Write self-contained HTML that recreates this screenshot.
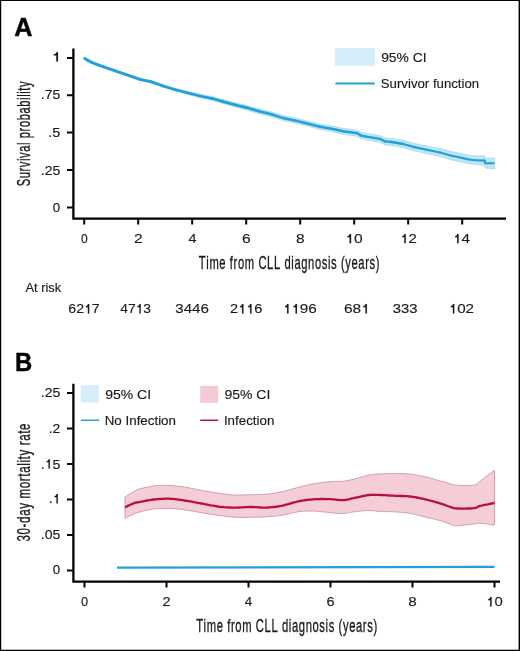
<!DOCTYPE html>
<html><head><meta charset="utf-8">
<style>
html,body{margin:0;padding:0;background:#fff;}
body{width:520px;height:651px;overflow:hidden;}
svg{display:block;will-change:transform;}
text{font-family:"Liberation Sans",sans-serif;}
</style></head><body>
<svg width="520" height="651" viewBox="0 0 520 651">
<rect x="0" y="0" width="520" height="651" fill="#fff"/>
<path fill="#000" d="M0 0 H520 V651 H0 Z M1.2 1.0 V649.7 H518.6 V1.0 Z" fill-rule="evenodd"/>
<path fill="#c0e7f7" stroke="#99d3ec" stroke-width="0.6" d="M84.8 58.0 L88.0 60.0 L91.5 61.8 L98.0 64.2 L103.1 66.0 L108.0 67.7 L114.6 69.8 L126.2 73.7 L140.0 78.4 L151.5 80.8 L163.1 84.7 L174.6 88.1 L186.2 90.9 L200.0 94.2 L211.5 96.4 L223.1 99.6 L234.6 102.5 L246.2 105.3 L260.0 109.0 L271.5 111.8 L283.1 115.5 L294.6 117.8 L306.2 120.6 L320.0 124.0 L331.5 126.0 L343.1 128.3 L357.5 130.2 L360.5 132.2 L366.2 133.4 L380.0 135.5 L385.0 138.0 L391.5 138.5 L403.1 140.3 L414.6 143.5 L426.2 145.8 L440.0 148.4 L451.5 151.6 L463.1 153.8 L468.8 155.2 L474.6 155.8 L484.6 155.8 L485.4 158.4 L494.8 157.7 L494.8 168.9 L485.4 168.2 L484.6 165.4 L474.6 164.6 L468.8 163.8 L463.1 162.4 L451.5 160.0 L440.0 156.6 L426.2 153.6 L414.6 151.0 L403.1 147.6 L391.5 145.5 L385.0 144.9 L380.0 142.3 L366.2 139.8 L360.5 138.6 L357.5 136.4 L343.1 134.3 L331.5 131.6 L320.0 129.4 L306.2 125.9 L294.6 123.0 L283.1 120.6 L271.5 116.9 L260.0 114.0 L246.2 109.9 L234.6 106.9 L223.1 103.6 L211.5 100.1 L200.0 97.7 L186.2 94.0 L174.6 90.9 L163.1 87.2 L151.5 83.1 L140.0 80.4 L126.2 75.4 L114.6 71.3 L108.0 69.1 L103.1 67.2 L98.0 65.3 L91.5 62.8 L88.0 60.8 L84.8 58.8 Z"/>
<g fill="none" stroke="#23a0da" stroke-linecap="round"><path d="M84.8 58.4 L88.0 60.4" stroke-width="3.00"/><path d="M88.0 60.4 L91.5 62.3" stroke-width="2.99"/><path d="M91.5 62.3 L98.0 64.8" stroke-width="2.98"/><path d="M98.0 64.8 L103.1 66.6" stroke-width="2.97"/><path d="M103.1 66.6 L108.0 68.4" stroke-width="2.96"/><path d="M108.0 68.4 L114.6 70.6" stroke-width="2.95"/><path d="M114.6 70.6 L126.2 74.6" stroke-width="2.94"/><path d="M126.2 74.6 L140.0 79.4" stroke-width="2.92"/><path d="M140.0 79.4 L151.5 81.9" stroke-width="2.89"/><path d="M151.5 81.9 L163.1 86.0" stroke-width="2.87"/><path d="M163.1 86.0 L174.6 89.5" stroke-width="2.85"/><path d="M174.6 89.5 L186.2 92.5" stroke-width="2.83"/><path d="M186.2 92.5 L200.0 96.0" stroke-width="2.81"/><path d="M200.0 96.0 L211.5 98.3" stroke-width="2.78"/><path d="M211.5 98.3 L223.1 101.6" stroke-width="2.75"/><path d="M223.1 101.6 L234.6 104.7" stroke-width="2.71"/><path d="M234.6 104.7 L246.2 107.6" stroke-width="2.68"/><path d="M246.2 107.6 L260.0 111.5" stroke-width="2.64"/><path d="M260.0 111.5 L271.5 114.3" stroke-width="2.60"/><path d="M271.5 114.3 L283.1 118.1" stroke-width="2.57"/><path d="M283.1 118.1 L294.6 120.4" stroke-width="2.53"/><path d="M294.6 120.4 L306.2 123.3" stroke-width="2.50"/><path d="M306.2 123.3 L320.0 126.7" stroke-width="2.47"/><path d="M320.0 126.7 L331.5 128.8" stroke-width="2.45"/><path d="M331.5 128.8 L343.1 131.3" stroke-width="2.42"/><path d="M343.1 131.3 L357.5 133.3" stroke-width="2.40"/><path d="M357.5 133.3 L360.5 135.4" stroke-width="2.38"/><path d="M360.5 135.4 L366.2 136.6" stroke-width="2.37"/><path d="M366.2 136.6 L380.0 138.9" stroke-width="2.35"/><path d="M380.0 138.9 L385.0 141.4" stroke-width="2.33"/><path d="M385.0 141.4 L391.5 142.0" stroke-width="2.32"/><path d="M391.5 142.0 L403.1 144.0" stroke-width="2.30"/><path d="M403.1 144.0 L414.6 147.2" stroke-width="2.27"/><path d="M414.6 147.2 L426.2 149.7" stroke-width="2.25"/><path d="M426.2 149.7 L440.0 152.5" stroke-width="2.22"/><path d="M440.0 152.5 L451.5 155.8" stroke-width="2.20"/><path d="M451.5 155.8 L463.1 158.1" stroke-width="2.18"/><path d="M463.1 158.1 L468.8 159.5" stroke-width="2.16"/><path d="M468.8 159.5 L474.6 160.2" stroke-width="2.15"/><path d="M474.6 160.2 L484.6 160.6" stroke-width="2.13"/><path d="M484.6 160.6 L485.4 163.3" stroke-width="2.12"/><path d="M485.4 163.3 L493.6 163.3" stroke-width="2.11"/></g>
<path d="M73.4 48.4 V218.6 H506" fill="none" stroke="#000" stroke-width="2.3"/>
<path stroke="#000" stroke-width="2" d="M67 58 H73 M67 95.2 H73 M67 132.6 H73 M67 170 H73 M67 207.5 H73"/>
<path stroke="#000" stroke-width="2" d="M84.2 218 V224.6 M138.2 218 V224.6 M192.2 218 V224.6 M246.2 218 V224.6 M300.2 218 V224.6 M354.2 218 V224.6 M408.2 218 V224.6 M462.2 218 V224.6"/>
<rect x="335" y="48" width="40" height="17.7" fill="#d6eef9"/>
<path d="M335.4 83.4 H374.6" stroke="#23a0da" stroke-width="2"/>
<path fill="#f4cdd7" stroke="#c98b9b" stroke-width="0.8" d="M125.0 497.0 L125.7 496.5 L126.7 495.9 L127.8 495.2 L129.1 494.4 L130.4 493.5 L131.8 492.7 L133.0 492.0 L134.0 491.4 L134.8 490.9 L135.5 490.5 L136.1 490.2 L136.6 489.9 L137.2 489.7 L137.9 489.4 L138.8 489.1 L140.0 488.8 L141.5 488.4 L143.2 488.0 L145.1 487.6 L147.1 487.2 L149.2 486.7 L151.3 486.4 L153.4 486.0 L155.4 485.8 L157.3 485.6 L159.2 485.5 L161.2 485.4 L163.1 485.4 L165.0 485.3 L167.0 485.4 L168.9 485.4 L170.8 485.5 L172.7 485.6 L174.7 485.8 L176.6 486.0 L178.5 486.2 L180.4 486.4 L182.4 486.7 L184.3 487.0 L186.2 487.3 L188.1 487.6 L190.0 488.0 L191.8 488.4 L193.7 488.8 L195.5 489.2 L197.5 489.6 L199.4 490.0 L201.5 490.4 L203.7 490.8 L206.0 491.2 L208.3 491.6 L210.7 492.0 L213.1 492.4 L215.5 492.8 L217.8 493.1 L220.0 493.4 L222.1 493.7 L224.1 493.9 L226.0 494.2 L227.9 494.4 L229.8 494.6 L231.6 494.8 L233.5 494.9 L235.4 495.0 L237.3 495.1 L239.2 495.1 L241.2 495.0 L243.1 495.0 L245.0 494.9 L247.0 494.8 L248.9 494.8 L250.8 494.7 L252.7 494.7 L254.7 494.6 L256.6 494.6 L258.5 494.6 L260.4 494.5 L262.4 494.5 L264.3 494.3 L266.2 494.2 L268.1 494.0 L270.0 493.8 L271.8 493.6 L273.7 493.3 L275.5 493.0 L277.5 492.7 L279.4 492.3 L281.5 491.9 L283.7 491.4 L286.0 490.8 L288.3 490.2 L290.7 489.5 L293.1 488.8 L295.5 488.1 L297.8 487.5 L300.0 486.9 L302.1 486.4 L304.1 485.9 L306.0 485.4 L307.9 485.0 L309.8 484.6 L311.6 484.2 L313.5 483.8 L315.4 483.5 L317.3 483.2 L319.3 482.9 L321.3 482.6 L323.3 482.4 L325.3 482.1 L327.2 481.9 L329.0 481.8 L330.8 481.6 L332.5 481.5 L334.1 481.4 L335.7 481.4 L337.2 481.4 L338.7 481.4 L340.2 481.4 L341.7 481.3 L343.1 481.2 L344.5 481.0 L345.8 480.9 L347.0 480.7 L348.3 480.4 L349.5 480.2 L350.8 479.9 L352.2 479.6 L353.8 479.2 L355.5 478.8 L357.4 478.2 L359.4 477.6 L361.5 477.0 L363.6 476.4 L365.6 475.9 L367.5 475.4 L369.2 475.0 L370.7 474.7 L372.1 474.5 L373.4 474.3 L374.6 474.2 L375.8 474.1 L377.1 474.1 L378.5 474.0 L380.0 473.9 L381.7 473.8 L383.5 473.7 L385.4 473.7 L387.4 473.6 L389.4 473.5 L391.4 473.5 L393.4 473.5 L395.4 473.5 L397.3 473.5 L399.2 473.5 L401.2 473.6 L403.1 473.6 L405.0 473.7 L406.9 473.9 L408.9 474.0 L410.8 474.2 L412.7 474.4 L414.7 474.7 L416.6 475.1 L418.6 475.4 L420.5 475.8 L422.5 476.2 L424.4 476.6 L426.2 477.0 L428.0 477.4 L429.8 477.9 L431.6 478.4 L433.3 478.9 L435.1 479.4 L436.7 479.9 L438.4 480.3 L440.0 480.8 L441.6 481.3 L443.2 481.7 L444.7 482.2 L446.2 482.7 L447.7 483.1 L449.1 483.5 L450.4 483.9 L451.5 484.2 L452.4 484.4 L453.1 484.6 L453.6 484.8 L454.1 484.9 L454.6 485.0 L455.3 485.1 L456.1 485.1 L457.3 485.2 L458.9 485.3 L460.8 485.4 L463.0 485.5 L465.3 485.5 L467.6 485.6 L469.9 485.5 L471.8 485.4 L473.5 485.2 L474.8 484.9 L475.7 484.6 L476.5 484.1 L477.1 483.7 L477.7 483.1 L478.4 482.4 L479.3 481.7 L480.4 480.8 L481.9 479.7 L483.7 478.3 L485.8 476.8 L487.9 475.2 L489.9 473.7 L491.8 472.3 L493.4 471.1 L494.5 470.2 L494.5 525.2 L493.4 525.0 L491.8 524.8 L489.9 524.5 L487.9 524.2 L485.8 523.8 L483.7 523.5 L481.9 523.3 L480.4 523.2 L479.3 523.2 L478.4 523.2 L477.7 523.3 L477.1 523.4 L476.5 523.5 L475.7 523.7 L474.8 523.8 L473.5 524.0 L471.8 524.2 L469.9 524.4 L467.6 524.7 L465.3 525.0 L463.0 525.3 L460.8 525.5 L458.9 525.7 L457.3 525.8 L456.1 525.8 L455.3 525.8 L454.6 525.7 L454.1 525.6 L453.6 525.4 L453.1 525.2 L452.4 524.9 L451.5 524.6 L450.4 524.2 L449.1 523.8 L447.7 523.3 L446.2 522.7 L444.7 522.2 L443.2 521.6 L441.6 521.1 L440.0 520.6 L438.4 520.2 L436.7 519.7 L435.1 519.3 L433.3 518.9 L431.6 518.5 L429.8 518.1 L428.0 517.7 L426.2 517.3 L424.4 516.8 L422.5 516.3 L420.5 515.8 L418.6 515.3 L416.6 514.8 L414.7 514.3 L412.7 513.9 L410.8 513.5 L408.9 513.2 L406.9 512.9 L405.0 512.7 L403.1 512.5 L401.2 512.3 L399.2 512.2 L397.3 512.0 L395.4 511.9 L393.4 511.8 L391.4 511.7 L389.4 511.7 L387.4 511.7 L385.4 511.6 L383.5 511.6 L381.7 511.6 L380.0 511.5 L378.5 511.4 L377.1 511.2 L375.8 511.0 L374.6 510.8 L373.4 510.7 L372.1 510.5 L370.7 510.4 L369.2 510.4 L367.5 510.5 L365.6 510.6 L363.6 510.8 L361.5 511.0 L359.4 511.2 L357.4 511.5 L355.5 511.7 L353.8 511.9 L352.2 512.1 L350.8 512.3 L349.5 512.6 L348.3 512.8 L347.0 513.1 L345.8 513.3 L344.5 513.4 L343.1 513.5 L341.7 513.5 L340.2 513.5 L338.7 513.4 L337.2 513.3 L335.7 513.2 L334.1 513.0 L332.5 512.8 L330.8 512.7 L329.0 512.5 L327.2 512.3 L325.3 512.1 L323.3 511.9 L321.3 511.7 L319.3 511.5 L317.3 511.3 L315.4 511.2 L313.5 511.1 L311.6 511.1 L309.8 511.0 L307.9 511.0 L306.0 511.1 L304.1 511.1 L302.1 511.3 L300.0 511.5 L297.8 511.8 L295.5 512.3 L293.1 512.8 L290.7 513.3 L288.3 513.9 L286.0 514.4 L283.7 514.9 L281.5 515.3 L279.4 515.6 L277.5 515.9 L275.5 516.1 L273.7 516.3 L271.8 516.4 L270.0 516.5 L268.1 516.7 L266.2 516.8 L264.3 516.9 L262.4 517.0 L260.4 517.1 L258.5 517.1 L256.6 517.2 L254.7 517.2 L252.7 517.3 L250.8 517.3 L248.9 517.3 L247.0 517.4 L245.0 517.4 L243.1 517.4 L241.2 517.5 L239.2 517.4 L237.3 517.4 L235.4 517.3 L233.5 517.2 L231.6 517.0 L229.8 516.8 L227.9 516.6 L226.0 516.3 L224.1 516.1 L222.1 515.8 L220.0 515.5 L217.8 515.2 L215.5 514.9 L213.1 514.5 L210.7 514.2 L208.3 513.8 L206.0 513.4 L203.7 513.0 L201.5 512.7 L199.4 512.4 L197.5 512.0 L195.5 511.7 L193.7 511.3 L191.8 511.0 L190.0 510.7 L188.1 510.4 L186.2 510.1 L184.3 509.8 L182.4 509.6 L180.4 509.3 L178.5 509.1 L176.6 508.9 L174.7 508.7 L172.7 508.6 L170.8 508.5 L168.9 508.4 L167.0 508.4 L165.0 508.4 L163.1 508.4 L161.2 508.4 L159.2 508.5 L157.3 508.6 L155.4 508.8 L153.4 509.1 L151.3 509.4 L149.2 509.8 L147.1 510.2 L145.1 510.7 L143.2 511.1 L141.5 511.5 L140.0 511.9 L138.8 512.2 L137.9 512.4 L137.2 512.6 L136.6 512.8 L136.1 513.0 L135.5 513.3 L134.8 513.5 L134.0 513.9 L133.0 514.4 L131.8 514.9 L130.4 515.6 L129.1 516.2 L127.8 516.9 L126.7 517.5 L125.7 517.9 L125.0 518.3 Z"/>
<path fill="none" stroke="#b8103c" stroke-width="2.3" d="M125.0 507.3 L125.7 507.0 L126.7 506.5 L127.8 505.9 L129.1 505.3 L130.4 504.7 L131.8 504.1 L133.0 503.6 L134.0 503.2 L134.8 502.9 L135.5 502.7 L136.1 502.6 L136.6 502.5 L137.2 502.4 L137.9 502.3 L138.8 502.1 L140.0 501.9 L141.5 501.6 L143.2 501.3 L145.1 500.9 L147.1 500.5 L149.2 500.2 L151.3 499.8 L153.4 499.5 L155.4 499.3 L157.3 499.1 L159.2 499.0 L161.2 498.8 L163.1 498.8 L165.0 498.7 L167.0 498.7 L168.9 498.7 L170.8 498.8 L172.7 498.9 L174.7 499.1 L176.6 499.3 L178.5 499.6 L180.4 499.9 L182.4 500.2 L184.3 500.5 L186.2 500.8 L188.1 501.1 L190.0 501.4 L191.8 501.7 L193.7 502.1 L195.5 502.4 L197.5 502.8 L199.4 503.1 L201.5 503.5 L203.7 503.9 L206.0 504.3 L208.3 504.8 L210.7 505.3 L213.1 505.7 L215.5 506.1 L217.8 506.5 L220.0 506.8 L222.1 507.0 L224.1 507.2 L226.0 507.3 L227.9 507.4 L229.8 507.5 L231.6 507.6 L233.5 507.6 L235.4 507.6 L237.3 507.6 L239.2 507.5 L241.2 507.4 L243.1 507.3 L245.0 507.2 L247.0 507.1 L248.9 507.0 L250.8 507.0 L252.7 507.0 L254.7 507.1 L256.6 507.2 L258.5 507.4 L260.4 507.5 L262.4 507.6 L264.3 507.6 L266.2 507.6 L268.1 507.5 L270.0 507.4 L271.8 507.2 L273.7 507.0 L275.5 506.8 L277.5 506.5 L279.4 506.2 L281.5 505.8 L283.7 505.3 L286.0 504.7 L288.3 504.1 L290.7 503.4 L293.1 502.7 L295.5 502.1 L297.8 501.5 L300.0 501.0 L302.1 500.6 L304.1 500.3 L306.0 500.0 L307.9 499.8 L309.8 499.6 L311.6 499.5 L313.5 499.3 L315.4 499.2 L317.3 499.1 L319.3 499.1 L321.3 499.0 L323.3 499.0 L325.3 499.1 L327.2 499.1 L329.0 499.1 L330.8 499.2 L332.5 499.3 L334.1 499.4 L335.7 499.6 L337.2 499.8 L338.7 499.9 L340.2 500.1 L341.7 500.1 L343.1 500.1 L344.5 500.0 L345.8 499.8 L347.0 499.6 L348.3 499.4 L349.5 499.1 L350.8 498.7 L352.2 498.4 L353.8 498.1 L355.5 497.7 L357.4 497.3 L359.4 496.9 L361.5 496.4 L363.6 496.0 L365.6 495.6 L367.5 495.2 L369.2 495.0 L370.7 494.8 L372.1 494.8 L373.4 494.7 L374.6 494.8 L375.8 494.8 L377.1 494.9 L378.5 494.9 L380.0 495.0 L381.7 495.1 L383.5 495.1 L385.4 495.2 L387.4 495.4 L389.4 495.5 L391.4 495.6 L393.4 495.7 L395.4 495.8 L397.3 495.9 L399.2 495.9 L401.2 496.0 L403.1 496.0 L405.0 496.1 L406.9 496.2 L408.9 496.3 L410.8 496.5 L412.7 496.8 L414.7 497.1 L416.6 497.5 L418.6 497.9 L420.5 498.3 L422.5 498.7 L424.4 499.2 L426.2 499.6 L428.0 500.0 L429.8 500.5 L431.6 500.9 L433.3 501.4 L435.1 501.9 L436.7 502.3 L438.4 502.8 L440.0 503.3 L441.6 503.8 L443.2 504.3 L444.7 504.9 L446.2 505.5 L447.7 506.0 L449.1 506.5 L450.4 506.9 L451.5 507.3 L452.4 507.6 L453.1 507.8 L453.6 508.0 L454.1 508.2 L454.6 508.3 L455.3 508.4 L456.1 508.4 L457.3 508.5 L458.9 508.5 L460.8 508.6 L463.0 508.6 L465.3 508.6 L467.6 508.5 L469.9 508.5 L471.8 508.3 L473.5 508.2 L474.8 508.0 L475.7 507.8 L476.5 507.5 L477.1 507.2 L477.7 506.9 L478.4 506.6 L479.3 506.2 L480.4 505.9 L481.9 505.5 L483.7 505.1 L485.8 504.7 L487.9 504.3 L489.9 503.8 L491.8 503.5 L493.4 503.1 L494.5 502.9"/>
<path d="M117 567.6 L494.5 566.9" fill="none" stroke="#23a0da" stroke-width="2.2"/>
<path d="M73.4 383.8 V581.6 H500" fill="none" stroke="#000" stroke-width="2.3"/>
<path stroke="#000" stroke-width="2" d="M67 392.9 H73 M67 428.4 H73 M67 463.9 H73 M67 499.4 H73 M67 535 H73 M67 570.6 H73"/>
<path stroke="#000" stroke-width="2" d="M84.5 581 V587.6 M166.5 581 V587.6 M248.5 581 V587.6 M330.5 581 V587.6 M412.5 581 V587.6 M494.5 581 V587.6"/>
<rect x="80.7" y="385.2" width="18.1" height="17.2" fill="#d6eef9"/>
<rect x="200.2" y="385.8" width="18" height="17" fill="#f4cad5"/>
<path d="M81 420.3 H99" stroke="#23a0da" stroke-width="1.5"/>
<path d="M200.2 420.3 H218.2" stroke="#b8103c" stroke-width="1.5"/>
<g transform="translate(14.35,35.60) scale(1.0114,1)"><text x="0" y="0" vector-effect="non-scaling-stroke" style="font-family:'Liberation Sans';font-size:25px;font-weight:bold;fill:#000;font-kerning:none;stroke:#000;stroke-width:0.4px;">A</text></g>
<g transform="translate(15.00,370.60) scale(0.9563,1)"><text x="0" y="0" vector-effect="non-scaling-stroke" style="font-family:'Liberation Sans';font-size:25px;font-weight:bold;fill:#000;font-kerning:none;stroke:#000;stroke-width:0.4px;">B</text></g>
<g transform="translate(51.26,61.60) scale(1.3600,1)"><text x="0" y="0" vector-effect="non-scaling-stroke" style="font-family:'Liberation Sans';font-size:13.5px;font-weight:normal;fill:#1a1a1a;font-kerning:none;stroke:#1a1a1a;stroke-width:0.15px;"> </text><path vector-effect="non-scaling-stroke" transform="translate(0.000,0) scale(0.00659,-0.00659)" d="M752 0 H560 V930 H270 V1075 C420 1100 525 1200 565 1409 H752 Z" style="fill:#1a1a1a;stroke:#1a1a1a;stroke-width:0.15px;"/></g>
<g transform="translate(40.87,99.00) scale(1.0319,1)"><text x="0" y="0" vector-effect="non-scaling-stroke" style="font-family:'Liberation Sans';font-size:13.5px;font-weight:normal;fill:#1a1a1a;font-kerning:none;stroke:#1a1a1a;stroke-width:0.15px;">.75</text></g>
<g transform="translate(48.33,136.75) scale(1.0667,1)"><text x="0" y="0" vector-effect="non-scaling-stroke" style="font-family:'Liberation Sans';font-size:13.5px;font-weight:normal;fill:#1a1a1a;font-kerning:none;stroke:#1a1a1a;stroke-width:0.15px;">.5</text></g>
<g transform="translate(40.76,174.80) scale(1.0435,1)"><text x="0" y="0" vector-effect="non-scaling-stroke" style="font-family:'Liberation Sans';font-size:13.5px;font-weight:normal;fill:#1a1a1a;font-kerning:none;stroke:#1a1a1a;stroke-width:0.15px;">.25</text></g>
<g transform="translate(52.65,211.80) scale(0.9857,1)"><text x="0" y="0" vector-effect="non-scaling-stroke" style="font-family:'Liberation Sans';font-size:13.5px;font-weight:normal;fill:#1a1a1a;font-kerning:none;stroke:#1a1a1a;stroke-width:0.15px;">0</text></g>
<g transform="translate(81.03,243.30) scale(0.8929,1)"><text x="0" y="0" vector-effect="non-scaling-stroke" style="font-family:'Liberation Sans';font-size:13.5px;font-weight:normal;fill:#1a1a1a;font-kerning:none;stroke:#1a1a1a;stroke-width:0.15px;">0</text></g>
<g transform="translate(133.92,243.30) scale(1.1538,1)"><text x="0" y="0" vector-effect="non-scaling-stroke" style="font-family:'Liberation Sans';font-size:13.5px;font-weight:normal;fill:#1a1a1a;font-kerning:none;stroke:#1a1a1a;stroke-width:0.15px;">2</text></g>
<g transform="translate(188.48,243.30) scale(1.0714,1)"><text x="0" y="0" vector-effect="non-scaling-stroke" style="font-family:'Liberation Sans';font-size:13.5px;font-weight:normal;fill:#1a1a1a;font-kerning:none;stroke:#1a1a1a;stroke-width:0.15px;">4</text></g>
<g transform="translate(242.02,243.30) scale(1.1538,1)"><text x="0" y="0" vector-effect="non-scaling-stroke" style="font-family:'Liberation Sans';font-size:13.5px;font-weight:normal;fill:#1a1a1a;font-kerning:none;stroke:#1a1a1a;stroke-width:0.15px;">6</text></g>
<g transform="translate(296.02,243.30) scale(1.1538,1)"><text x="0" y="0" vector-effect="non-scaling-stroke" style="font-family:'Liberation Sans';font-size:13.5px;font-weight:normal;fill:#1a1a1a;font-kerning:none;stroke:#1a1a1a;stroke-width:0.15px;">8</text></g>
<g transform="translate(345.37,243.30) scale(1.1547,1)"><text x="0" y="0" vector-effect="non-scaling-stroke" style="font-family:'Liberation Sans';font-size:13.5px;font-weight:normal;fill:#1a1a1a;font-kerning:none;stroke:#1a1a1a;stroke-width:0.15px;"> 0</text><path vector-effect="non-scaling-stroke" transform="translate(0.000,0) scale(0.00659,-0.00659)" d="M752 0 H560 V930 H270 V1075 C420 1100 525 1200 565 1409 H752 Z" style="fill:#1a1a1a;stroke:#1a1a1a;stroke-width:0.15px;"/></g>
<g transform="translate(400.24,243.30) scale(1.1077,1)"><text x="0" y="0" vector-effect="non-scaling-stroke" style="font-family:'Liberation Sans';font-size:13.5px;font-weight:normal;fill:#1a1a1a;font-kerning:none;stroke:#1a1a1a;stroke-width:0.15px;"> 2</text><path vector-effect="non-scaling-stroke" transform="translate(0.000,0) scale(0.00659,-0.00659)" d="M752 0 H560 V930 H270 V1075 C420 1100 525 1200 565 1409 H752 Z" style="fill:#1a1a1a;stroke:#1a1a1a;stroke-width:0.15px;"/></g>
<g transform="translate(453.00,243.30) scale(1.1321,1)"><text x="0" y="0" vector-effect="non-scaling-stroke" style="font-family:'Liberation Sans';font-size:13.5px;font-weight:normal;fill:#1a1a1a;font-kerning:none;stroke:#1a1a1a;stroke-width:0.15px;"> 4</text><path vector-effect="non-scaling-stroke" transform="translate(0.000,0) scale(0.00659,-0.00659)" d="M752 0 H560 V930 H270 V1075 C420 1100 525 1200 565 1409 H752 Z" style="fill:#1a1a1a;stroke:#1a1a1a;stroke-width:0.15px;"/></g>
<g transform="translate(198.85,268.80) scale(0.6056,1)"><text x="0" y="0" vector-effect="non-scaling-stroke" style="font-family:'Liberation Sans';font-size:18.5px;font-weight:normal;fill:#1a1a1a;font-kerning:none;stroke:#1a1a1a;stroke-width:0.28px;letter-spacing:1px;">Time from CLL diagnosis (years)</text></g>
<g transform="translate(30.20,186.25) rotate(-90) scale(0.6020,1)"><text x="0" y="0" vector-effect="non-scaling-stroke" style="font-family:'Liberation Sans';font-size:18.5px;font-weight:normal;fill:#1a1a1a;font-kerning:none;stroke:#1a1a1a;stroke-width:0.28px;letter-spacing:1px;">Survival probability</text></g>
<g transform="translate(381.14,61.90) scale(1.0281,1)"><text x="0" y="0" vector-effect="non-scaling-stroke" style="font-family:'Liberation Sans';font-size:13.5px;font-weight:normal;fill:#1a1a1a;font-kerning:none;stroke:#1a1a1a;stroke-width:0.15px;">95% CI</text></g>
<g transform="translate(380.81,87.70) scale(0.9789,1)"><text x="0" y="0" vector-effect="non-scaling-stroke" style="font-family:'Liberation Sans';font-size:13.5px;font-weight:normal;fill:#1a1a1a;font-kerning:none;stroke:#1a1a1a;stroke-width:0.15px;">Survivor function</text></g>
<g transform="translate(25.40,291.80) scale(0.9547,1)"><text x="0" y="0" vector-effect="non-scaling-stroke" style="font-family:'Liberation Sans';font-size:13.5px;font-weight:normal;fill:#1a1a1a;font-kerning:none;stroke:#1a1a1a;stroke-width:0.15px;">At risk</text></g>
<g transform="translate(68.28,313.40) scale(1.0483,1)"><text x="0" y="0" vector-effect="non-scaling-stroke" style="font-family:'Liberation Sans';font-size:13.5px;font-weight:normal;fill:#1a1a1a;font-kerning:none;stroke:#1a1a1a;stroke-width:0.15px;">62 7</text><path vector-effect="non-scaling-stroke" transform="translate(15.016,0) scale(0.00659,-0.00659)" d="M752 0 H560 V930 H270 V1075 C420 1100 525 1200 565 1409 H752 Z" style="fill:#1a1a1a;stroke:#1a1a1a;stroke-width:0.15px;"/></g>
<g transform="translate(120.24,313.40) scale(1.0256,1)"><text x="0" y="0" vector-effect="non-scaling-stroke" style="font-family:'Liberation Sans';font-size:13.5px;font-weight:normal;fill:#1a1a1a;font-kerning:none;stroke:#1a1a1a;stroke-width:0.15px;">47 3</text><path vector-effect="non-scaling-stroke" transform="translate(15.016,0) scale(0.00659,-0.00659)" d="M752 0 H560 V930 H270 V1075 C420 1100 525 1200 565 1409 H752 Z" style="fill:#1a1a1a;stroke:#1a1a1a;stroke-width:0.15px;"/></g>
<g transform="translate(175.24,313.40) scale(1.1207,1)"><text x="0" y="0" vector-effect="non-scaling-stroke" style="font-family:'Liberation Sans';font-size:13.5px;font-weight:normal;fill:#1a1a1a;font-kerning:none;stroke:#1a1a1a;stroke-width:0.15px;">3446</text></g>
<g transform="translate(229.96,313.40) scale(1.0793,1)"><text x="0" y="0" vector-effect="non-scaling-stroke" style="font-family:'Liberation Sans';font-size:13.5px;font-weight:normal;fill:#1a1a1a;font-kerning:none;stroke:#1a1a1a;stroke-width:0.15px;">2  6</text><path vector-effect="non-scaling-stroke" transform="translate(7.508,0) scale(0.00659,-0.00659)" d="M752 0 H560 V930 H270 V1075 C420 1100 525 1200 565 1409 H752 Z" style="fill:#1a1a1a;stroke:#1a1a1a;stroke-width:0.15px;"/><path vector-effect="non-scaling-stroke" transform="translate(15.016,0) scale(0.00659,-0.00659)" d="M752 0 H560 V930 H270 V1075 C420 1100 525 1200 565 1409 H752 Z" style="fill:#1a1a1a;stroke:#1a1a1a;stroke-width:0.15px;"/></g>
<g transform="translate(282.91,313.40) scale(1.1286,1)"><text x="0" y="0" vector-effect="non-scaling-stroke" style="font-family:'Liberation Sans';font-size:13.5px;font-weight:normal;fill:#1a1a1a;font-kerning:none;stroke:#1a1a1a;stroke-width:0.15px;">  96</text><path vector-effect="non-scaling-stroke" transform="translate(0.000,0) scale(0.00659,-0.00659)" d="M752 0 H560 V930 H270 V1075 C420 1100 525 1200 565 1409 H752 Z" style="fill:#1a1a1a;stroke:#1a1a1a;stroke-width:0.15px;"/><path vector-effect="non-scaling-stroke" transform="translate(7.508,0) scale(0.00659,-0.00659)" d="M752 0 H560 V930 H270 V1075 C420 1100 525 1200 565 1409 H752 Z" style="fill:#1a1a1a;stroke:#1a1a1a;stroke-width:0.15px;"/></g>
<g transform="translate(344.03,313.40) scale(1.1443,1)"><text x="0" y="0" vector-effect="non-scaling-stroke" style="font-family:'Liberation Sans';font-size:13.5px;font-weight:normal;fill:#1a1a1a;font-kerning:none;stroke:#1a1a1a;stroke-width:0.15px;">68 </text><path vector-effect="non-scaling-stroke" transform="translate(15.016,0) scale(0.00659,-0.00659)" d="M752 0 H560 V930 H270 V1075 C420 1100 525 1200 565 1409 H752 Z" style="fill:#1a1a1a;stroke:#1a1a1a;stroke-width:0.15px;"/></g>
<g transform="translate(392.65,313.40) scale(1.1023,1)"><text x="0" y="0" vector-effect="non-scaling-stroke" style="font-family:'Liberation Sans';font-size:13.5px;font-weight:normal;fill:#1a1a1a;font-kerning:none;stroke:#1a1a1a;stroke-width:0.15px;">333</text></g>
<g transform="translate(448.71,313.40) scale(1.1268,1)"><text x="0" y="0" vector-effect="non-scaling-stroke" style="font-family:'Liberation Sans';font-size:13.5px;font-weight:normal;fill:#1a1a1a;font-kerning:none;stroke:#1a1a1a;stroke-width:0.15px;"> 02</text><path vector-effect="non-scaling-stroke" transform="translate(0.000,0) scale(0.00659,-0.00659)" d="M752 0 H560 V930 H270 V1075 C420 1100 525 1200 565 1409 H752 Z" style="fill:#1a1a1a;stroke:#1a1a1a;stroke-width:0.15px;"/></g>
<g transform="translate(40.76,397.30) scale(1.0435,1)"><text x="0" y="0" vector-effect="non-scaling-stroke" style="font-family:'Liberation Sans';font-size:13.5px;font-weight:normal;fill:#1a1a1a;font-kerning:none;stroke:#1a1a1a;stroke-width:0.15px;">.25</text></g>
<g transform="translate(48.77,433.20) scale(1.0256,1)"><text x="0" y="0" vector-effect="non-scaling-stroke" style="font-family:'Liberation Sans';font-size:13.5px;font-weight:normal;fill:#1a1a1a;font-kerning:none;stroke:#1a1a1a;stroke-width:0.15px;">.2</text></g>
<g transform="translate(40.76,468.50) scale(1.0435,1)"><text x="0" y="0" vector-effect="non-scaling-stroke" style="font-family:'Liberation Sans';font-size:13.5px;font-weight:normal;fill:#1a1a1a;font-kerning:none;stroke:#1a1a1a;stroke-width:0.15px;">. 5</text><path vector-effect="non-scaling-stroke" transform="translate(3.751,0) scale(0.00659,-0.00659)" d="M752 0 H560 V930 H270 V1075 C420 1100 525 1200 565 1409 H752 Z" style="fill:#1a1a1a;stroke:#1a1a1a;stroke-width:0.15px;"/></g>
<g transform="translate(48.76,503.40) scale(1.0375,1)"><text x="0" y="0" vector-effect="non-scaling-stroke" style="font-family:'Liberation Sans';font-size:13.5px;font-weight:normal;fill:#1a1a1a;font-kerning:none;stroke:#1a1a1a;stroke-width:0.15px;">. </text><path vector-effect="non-scaling-stroke" transform="translate(3.751,0) scale(0.00659,-0.00659)" d="M752 0 H560 V930 H270 V1075 C420 1100 525 1200 565 1409 H752 Z" style="fill:#1a1a1a;stroke:#1a1a1a;stroke-width:0.15px;"/></g>
<g transform="translate(40.76,538.80) scale(1.0435,1)"><text x="0" y="0" vector-effect="non-scaling-stroke" style="font-family:'Liberation Sans';font-size:13.5px;font-weight:normal;fill:#1a1a1a;font-kerning:none;stroke:#1a1a1a;stroke-width:0.15px;">.05</text></g>
<g transform="translate(52.65,574.30) scale(0.9857,1)"><text x="0" y="0" vector-effect="non-scaling-stroke" style="font-family:'Liberation Sans';font-size:13.5px;font-weight:normal;fill:#1a1a1a;font-kerning:none;stroke:#1a1a1a;stroke-width:0.15px;">0</text></g>
<g transform="translate(80.96,606.40) scale(0.9429,1)"><text x="0" y="0" vector-effect="non-scaling-stroke" style="font-family:'Liberation Sans';font-size:13.5px;font-weight:normal;fill:#1a1a1a;font-kerning:none;stroke:#1a1a1a;stroke-width:0.15px;">0</text></g>
<g transform="translate(162.46,606.40) scale(1.0769,1)"><text x="0" y="0" vector-effect="non-scaling-stroke" style="font-family:'Liberation Sans';font-size:13.5px;font-weight:normal;fill:#1a1a1a;font-kerning:none;stroke:#1a1a1a;stroke-width:0.15px;">2</text></g>
<g transform="translate(244.75,606.40) scale(1.0000,1)"><text x="0" y="0" vector-effect="non-scaling-stroke" style="font-family:'Liberation Sans';font-size:13.5px;font-weight:normal;fill:#1a1a1a;font-kerning:none;stroke:#1a1a1a;stroke-width:0.15px;">4</text></g>
<g transform="translate(326.46,606.40) scale(1.0769,1)"><text x="0" y="0" vector-effect="non-scaling-stroke" style="font-family:'Liberation Sans';font-size:13.5px;font-weight:normal;fill:#1a1a1a;font-kerning:none;stroke:#1a1a1a;stroke-width:0.15px;">6</text></g>
<g transform="translate(408.34,606.40) scale(1.1231,1)"><text x="0" y="0" vector-effect="non-scaling-stroke" style="font-family:'Liberation Sans';font-size:13.5px;font-weight:normal;fill:#1a1a1a;font-kerning:none;stroke:#1a1a1a;stroke-width:0.15px;">8</text></g>
<g transform="translate(486.15,606.40) scale(1.1019,1)"><text x="0" y="0" vector-effect="non-scaling-stroke" style="font-family:'Liberation Sans';font-size:13.5px;font-weight:normal;fill:#1a1a1a;font-kerning:none;stroke:#1a1a1a;stroke-width:0.15px;"> 0</text><path vector-effect="non-scaling-stroke" transform="translate(0.000,0) scale(0.00659,-0.00659)" d="M752 0 H560 V930 H270 V1075 C420 1100 525 1200 565 1409 H752 Z" style="fill:#1a1a1a;stroke:#1a1a1a;stroke-width:0.15px;"/></g>
<g transform="translate(196.15,631.60) scale(0.6069,1)"><text x="0" y="0" vector-effect="non-scaling-stroke" style="font-family:'Liberation Sans';font-size:18.5px;font-weight:normal;fill:#1a1a1a;font-kerning:none;stroke:#1a1a1a;stroke-width:0.28px;letter-spacing:1px;">Time from CLL diagnosis (years)</text></g>
<g transform="translate(30.20,541.51) rotate(-90) scale(0.6261,1)"><text x="0" y="0" vector-effect="non-scaling-stroke" style="font-family:'Liberation Sans';font-size:18.5px;font-weight:normal;fill:#1a1a1a;font-kerning:none;stroke:#1a1a1a;stroke-width:0.28px;letter-spacing:1px;">30-day mortality rate</text></g>
<g transform="translate(105.18,399.20) scale(1.0386,1)"><text x="0" y="0" vector-effect="non-scaling-stroke" style="font-family:'Liberation Sans';font-size:13.5px;font-weight:normal;fill:#1a1a1a;font-kerning:none;stroke:#1a1a1a;stroke-width:0.15px;">95% CI</text></g>
<g transform="translate(104.71,425.00) scale(0.9901,1)"><text x="0" y="0" vector-effect="non-scaling-stroke" style="font-family:'Liberation Sans';font-size:13.5px;font-weight:normal;fill:#1a1a1a;font-kerning:none;stroke:#1a1a1a;stroke-width:0.15px;">No Infection</text></g>
<g transform="translate(224.38,399.20) scale(1.0386,1)"><text x="0" y="0" vector-effect="non-scaling-stroke" style="font-family:'Liberation Sans';font-size:13.5px;font-weight:normal;fill:#1a1a1a;font-kerning:none;stroke:#1a1a1a;stroke-width:0.15px;">95% CI</text></g>
<g transform="translate(223.91,425.00) scale(0.9888,1)"><text x="0" y="0" vector-effect="non-scaling-stroke" style="font-family:'Liberation Sans';font-size:13.5px;font-weight:normal;fill:#1a1a1a;font-kerning:none;stroke:#1a1a1a;stroke-width:0.15px;">Infection</text></g>
</svg>
</body></html>
